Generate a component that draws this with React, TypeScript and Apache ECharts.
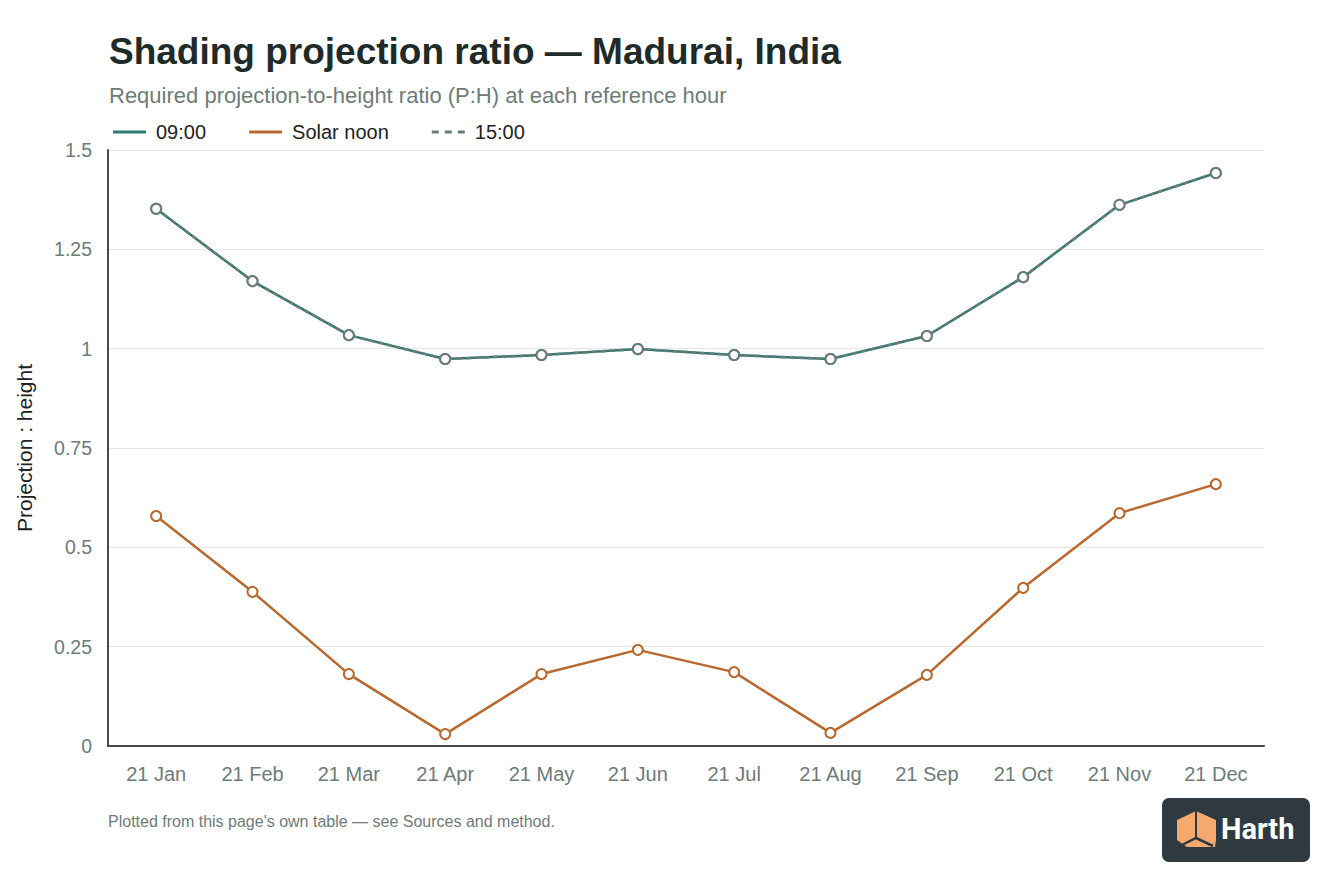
import { useEffect, useRef } from "react";
import * as echarts from "echarts";

const months = [
  "21 Jan", "21 Feb", "21 Mar", "21 Apr", "21 May", "21 Jun",
  "21 Jul", "21 Aug", "21 Sep", "21 Oct", "21 Nov", "21 Dec",
];
const morning = [1.352, 1.17, 1.034, 0.974, 0.984, 0.999, 0.984, 0.974, 1.032, 1.18, 1.362, 1.442];
const noon = [0.579, 0.388, 0.181, 0.03, 0.181, 0.242, 0.186, 0.033, 0.179, 0.398, 0.586, 0.659];
const afternoon = [1.352, 1.17, 1.034, 0.974, 0.984, 0.999, 0.984, 0.974, 1.032, 1.18, 1.362, 1.442];

const font = "'Liberation Sans', Arial, Helvetica, sans-serif";
const teal = "#2c7a70";
const orange = "#b8692f";
const grey = "#6c7c79";
const muted = "#6e7b78";
const dashIcon = "path://M0,0h7v3h-7z M13,0h7v3h-7z M26,0h7v3h-7z";

export default function App() {
  const chartRef = useRef<HTMLDivElement>(null);

  useEffect(() => {
    if (!chartRef.current) return;
    const chart = echarts.init(chartRef.current, undefined, { renderer: "svg" });

    const option: echarts.EChartsOption = {
      animation: false,
      backgroundColor: "#ffffff",
      textStyle: { fontFamily: font },
      title: {
        text: "Shading projection ratio — Madurai, India",
        subtext: "Required projection-to-height ratio (P:H) at each reference hour",
        left: 104,
        top: 28,
        itemGap: 14,
        textStyle: { fontSize: 37, fontWeight: "bold", color: "#1e2b28", fontFamily: font },
        subtextStyle: { fontSize: 22, color: muted, fontFamily: font },
      },
      legend: {
        left: 108,
        top: 117,
        itemWidth: 33,
        itemHeight: 3,
        itemGap: 43,
        textStyle: { fontSize: 20, color: "#222", fontFamily: font, padding: [0, 0, 0, 5] },
        data: [
          { name: "09:00", icon: "rect", itemStyle: { color: teal } },
          { name: "Solar noon", icon: "rect", itemStyle: { color: orange } },
          { name: "15:00", icon: dashIcon, itemStyle: { color: grey } },
        ],
      },
      grid: { left: 108, right: 80, top: 150, bottom: 150 },
      xAxis: {
        type: "category",
        data: months,
        boundaryGap: true,
        axisLine: { lineStyle: { color: "#4a4a4a", width: 2 } },
        axisTick: { show: false },
        axisLabel: { fontSize: 20, color: muted, margin: 18, fontFamily: font },
      },
      yAxis: {
        type: "value",
        min: 0,
        max: 1.5,
        interval: 0.25,
        name: "Projection : height",
        nameLocation: "middle",
        nameGap: 73,
        nameTextStyle: { fontSize: 21, color: "#222", fontFamily: font },
        axisLine: { show: true, lineStyle: { color: "#4a4a4a", width: 2 } },
        axisTick: { show: false },
        axisLabel: { fontSize: 19.5, color: muted, margin: 16, fontFamily: font },
        splitLine: { lineStyle: { color: "#e6e8e8", width: 1 } },
      },
      series: [
        {
          name: "09:00",
          type: "line",
          data: morning,
          symbol: "emptyCircle",
          symbolSize: 10,
          lineStyle: { color: teal, width: 2.5 },
          itemStyle: { color: teal, borderWidth: 2 },
          z: 2,
        },
        {
          name: "Solar noon",
          type: "line",
          data: noon,
          symbol: "emptyCircle",
          symbolSize: 10,
          lineStyle: { color: orange, width: 2.5 },
          itemStyle: { color: orange, borderWidth: 2 },
          z: 3,
        },
        {
          name: "15:00",
          type: "line",
          data: afternoon,
          symbol: "emptyCircle",
          symbolSize: 10,
          lineStyle: { color: grey, width: 2.5, type: [5, 4] },
          itemStyle: { color: grey, borderWidth: 2 },
          z: 4,
        },
      ],
      graphic: [
        {
          type: "text",
          left: 108,
          top: 813,
          style: {
            text: "Plotted from this page's own table — see Sources and method.",
            fontSize: 16,
            fill: muted,
            fontFamily: font,
          },
        },
        {
          type: "group",
          left: 1162,
          top: 798,
          children: [
            {
              type: "rect",
              shape: { x: 0, y: 0, width: 148, height: 64, r: 7 },
              style: { fill: "#2e3a40" },
            },
            {
              type: "polygon",
              shape: {
                points: [[34, 13], [15, 22], [15, 42], [25, 49], [53, 49], [54, 42], [54, 22]],
              },
              style: { fill: "#f5a96e" },
            },
            {
              type: "polyline",
              shape: { points: [[34, 13], [34, 40]] },
              style: { stroke: "#2e3a40", lineWidth: 2, fill: "none" },
            },
            {
              type: "polyline",
              shape: { points: [[18, 48], [34, 40], [51, 48]] },
              style: { stroke: "#2e3a40", lineWidth: 2.5, fill: "none" },
            },
            {
              type: "text",
              x: 59,
              y: 16,
              style: {
                text: "Harth",
                fontSize: 29,
                fontWeight: "bold",
                fill: "#ffffff",
                fontFamily: "Roboto, 'Liberation Sans', sans-serif",
              },
            },
          ],
        },
      ],
    };

    chart.setOption(option);
    return () => chart.dispose();
  }, []);

  return <div ref={chartRef} style={{ width: 1344, height: 896, position: "absolute", left: 0, top: 0 }} />;
}
